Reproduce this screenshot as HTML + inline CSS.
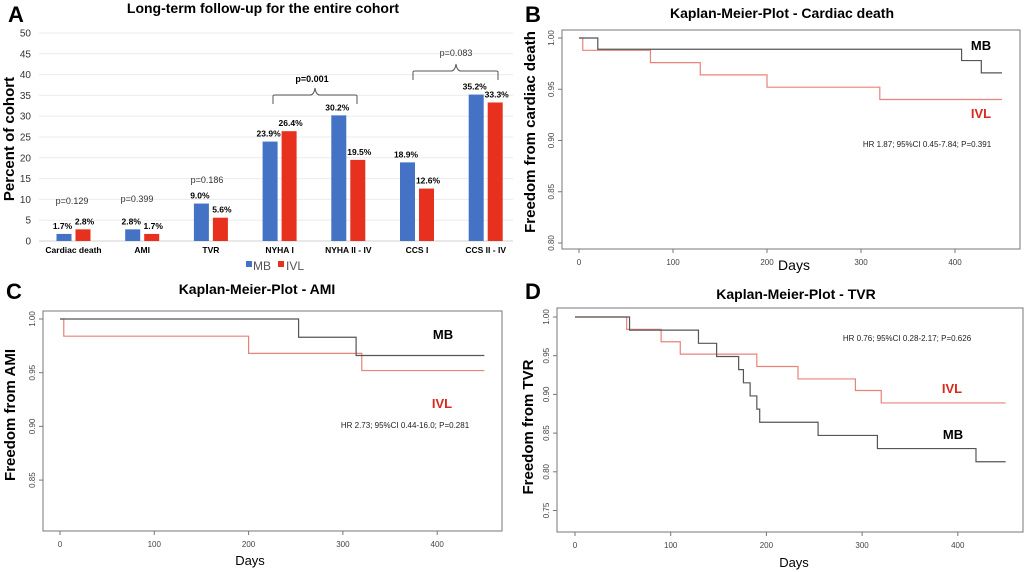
<!DOCTYPE html>
<html><head><meta charset="utf-8"><style>
body{margin:0;background:#fff}
svg{display:block;font-family:"Liberation Sans",sans-serif}
</style></head><body>
<svg id="fig" width="1026" height="572" viewBox="0 0 1026 572" xmlns="http://www.w3.org/2000/svg">
<g id="pa"></g>
<g id="pb"></g>
<g id="pc"></g>
<g id="pd"></g>
</svg>
<script>
// ---- Panel A data ----
const barCategories = ["Cardiac death","AMI","TVR","NYHA I","NYHA II - IV","CCS I","CCS II - IV"];
const mbValues = [1.7,2.8,9.0,23.9,30.2,18.9,35.2];
const ivlValues = [2.8,1.7,5.6,26.4,19.5,12.6,33.3];
const barTicks = [0,5,10,15,20,25,30,35,40,45,50];
// ---- KM data (step times & survival) ----
const bMBTimes=[0,20,407,428,450], bMBSurv=[1,0.989,0.978,0.966,0.966];
const bIVLTimes=[0,4,76,129,200,320,450], bIVLSurv=[1,0.988,0.976,0.964,0.952,0.940,0.940];
const cMBTimes=[0,253,314,450], cMBSurv=[1,0.983,0.966,0.966];
const cIVLTimes=[0,4,200,320,450], cIVLSurv=[1,0.984,0.968,0.952,0.952];
const dMBTimes=[0,57,129,148,171,176,183,190,193,254,316,419,450];
const dMBSurv=[1,0.983,0.966,0.949,0.932,0.915,0.898,0.881,0.864,0.847,0.830,0.813,0.813];
const dIVLTimes=[0,54,90,110,190,233,293,320,450];
const dIVLSurv=[1,0.984,0.968,0.952,0.936,0.920,0.905,0.889,0.889];
const dayTicks=[0,100,200,300,400];
const bYTicks=[0.80,0.85,0.90,0.95,1.00];
const cYTicks=[0.85,0.90,0.95,1.00];
const dYTicks=[0.75,0.80,0.85,0.90,0.95,1.00];

const NS="http://www.w3.org/2000/svg";
function el(parent,tag,attrs,text){const e=document.createElementNS(NS,tag);for(const k in attrs)e.setAttribute(k,attrs[k]);if(text!==undefined)e.textContent=text;parent.appendChild(e);return e;}

// ---- Panel A ----
(function(){
const g=document.getElementById('pa');
const y=v=>241-v*4.16, cx=i=>73.5+i*68.7;
let t=el(g,'text',{x:16,y:22,'font-size':22,'font-weight':'bold','text-anchor':'middle'},'A');

t=el(g,'text',{x:263,y:13,'font-size':14,'font-weight':'bold','text-anchor':'middle'},'Long-term follow-up for the entire cohort');

t=el(g,'text',{x:0,y:0,'font-size':15,'font-weight':'bold','text-anchor':'middle',transform:'translate(14,139) rotate(-90)'},'Percent of cohort');

barTicks.forEach(v=>{
 const l=el(g,'line',{x1:39,x2:513,y1:y(v),y2:y(v),stroke:v===0?'#d0d0d0':'#ececec','stroke-width':1});
 
 const tt=el(g,'text',{x:31,y:y(v)+3.5,'font-size':10,fill:'#333','text-anchor':'end'},String(v));
 
});
barCategories.forEach((c,i)=>{
 const c0=cx(i);
 const r1=el(g,'rect',{x:c0-17,y:y(mbValues[i]),width:15,height:mbValues[i]*4.16,fill:'#4472c4'});
 
 const r2=el(g,'rect',{x:c0+2,y:y(ivlValues[i]),width:15,height:ivlValues[i]*4.16,fill:'#e8301f'});
 
 const v1=el(g,'text',{x:c0-11,y:y(mbValues[i])-5,'font-size':8.5,'font-weight':'bold','text-anchor':'middle'},mbValues[i].toFixed(1)+'%');
 
 const v2=el(g,'text',{x:c0+11,y:y(ivlValues[i])-5,'font-size':8.5,'font-weight':'bold','text-anchor':'middle'},ivlValues[i].toFixed(1)+'%');
 
 const cl=el(g,'text',{x:c0,y:253,'font-size':8.5,'font-weight':'bold','text-anchor':'middle'},c);
 
});
[["p=0.129",72,204],["p=0.399",137,202],["p=0.186",207,183]].forEach(p=>{
 const pt=el(g,'text',{x:p[1],y:p[2],'font-size':9,fill:'#333','text-anchor':'middle'},p[0]);
 
});
t=el(g,'text',{x:312,y:82,'font-size':9,'font-weight':'bold','text-anchor':'middle'},'p=0.001');

t=el(g,'text',{x:456,y:56,'font-size':9,fill:'#333','text-anchor':'middle'},'p=0.083');

let b=el(g,'path',{d:'M273,104 L273,96 Q273,95 275,95 L310,95 Q314,95 315,88 Q316,95 320,95 L355,95 Q357,95 357,96 L357,104',fill:'none',stroke:'#555','stroke-width':1});

b=el(g,'path',{d:'M413,80 L413,72 Q413,71 415,71 L451,71 Q455,71 456,64 Q457,71 461,71 L496,71 Q498,71 498,72 L498,80',fill:'none',stroke:'#555','stroke-width':1});

let lg=el(g,'rect',{x:246,y:261,width:6,height:6,fill:'#4472c4'});

t=el(g,'text',{x:253,y:270,'font-size':12,fill:'#555'},'MB');

lg=el(g,'rect',{x:278,y:261,width:6,height:6,fill:'#e8301f'});

t=el(g,'text',{x:286,y:270,'font-size':12,fill:'#555'},'IVL');

})();

// ---- KM panels ----
function km(cfg){
 const g=document.getElementById(cfg.id);
 const X=d=>cfg.x0+d*cfg.dx, Y=s=>cfg.y1+(1-s)/0.05*cfg.dy;
 let t=el(g,'text',{x:cfg.letter[1],y:cfg.letter[2],'font-size':22,'font-weight':'bold','text-anchor':'middle'},cfg.letter[0]);
 
 t=el(g,'text',{x:cfg.title[1],y:cfg.title[2],'font-size':14,'font-weight':'bold','text-anchor':'middle'},cfg.title[0]);
 
 const f=el(g,'rect',{x:cfg.fx,y:cfg.fy,width:cfg.fw,height:cfg.fh,fill:'none',stroke:'#777','stroke-width':1});
 
 dayTicks.forEach(d=>{
  const l=el(g,'line',{x1:X(d),x2:X(d),y1:cfg.fy+cfg.fh,y2:cfg.fy+cfg.fh+4,stroke:'#777'});
  
  const tt=el(g,'text',{x:X(d),y:cfg.xty,'font-size':8,fill:'#444','text-anchor':'middle'},String(d));
  
 });
 cfg.yticks.forEach(v=>{
  const l=el(g,'line',{x1:cfg.fx-4,x2:cfg.fx,y1:Y(v),y2:Y(v),stroke:'#777'});
  
  const tt=el(g,'text',{x:0,y:0,'font-size':8,fill:'#444','text-anchor':'middle',transform:`translate(${cfg.fx-8},${Y(v)}) rotate(-90)`},v.toFixed(2));
  
 });
 t=el(g,'text',{x:cfg.days[0],y:cfg.days[1],'font-size':cfg.days[2],'text-anchor':'middle'},'Days');
 
 t=el(g,'text',{x:0,y:0,'font-size':15,'font-weight':'bold','text-anchor':'middle',transform:`translate(${cfg.yt[1]},${cfg.yt[2]}) rotate(-90)`},cfg.yt[0]);
 
 function step(times,surv,color,name){
  let d=`M${X(times[0])},${Y(surv[0])}`;
  for(let i=1;i<times.length;i++){d+=` H${X(times[i])} V${Y(surv[i])}`;}
  const p=el(g,'path',{d:d,fill:'none',stroke:color,'stroke-width':1.2});
  
 }
 step(cfg.ivlT,cfg.ivlS,'#e8837a','ivl-curve');
 step(cfg.mbT,cfg.mbS,'#555','mb-curve');
 t=el(g,'text',{x:cfg.mbL[0],y:cfg.mbL[1],'font-size':13,'font-weight':'bold','text-anchor':'middle'},'MB');
 
 t=el(g,'text',{x:cfg.ivlL[0],y:cfg.ivlL[1],'font-size':13,'font-weight':'bold',fill:'#d9281c','text-anchor':'middle'},'IVL');
 
 t=el(g,'text',{x:cfg.hr[1],y:cfg.hr[2],'font-size':8,fill:'#222','text-anchor':'middle'},cfg.hr[0]);
 
}
km({id:'pb',letter:['B',533,22],title:['Kaplan-Meier-Plot -  Cardiac death',782,18],fx:562,fy:30,fw:458,fh:219,
 x0:579,dx:0.94,y1:38,dy:51.25,yticks:bYTicks,xty:265,days:[794,270,14],yt:['Freedom from cardiac death',535,132],
 mbT:bMBTimes,mbS:bMBSurv,ivlT:bIVLTimes,ivlS:bIVLSurv,mbL:[981,50],ivlL:[981,118],hr:['HR 1.87; 95%CI 0.45-7.84; P=0.391',927,147]});
km({id:'pc',letter:['C',14,299],title:['Kaplan-Meier-Plot - AMI',257,294],fx:43,fy:311,fw:459,fh:220,
 x0:60,dx:0.943,y1:319,dy:53.7,yticks:cYTicks,xty:547,days:[250,565,13],yt:['Freedom from AMI',15,415],
 mbT:cMBTimes,mbS:cMBSurv,ivlT:cIVLTimes,ivlS:cIVLSurv,mbL:[443,339],ivlL:[442,408],hr:['HR 2.73; 95%CI 0.44-16.0; P=0.281',405,428]});
km({id:'pd',letter:['D',533,299],title:['Kaplan-Meier-Plot - TVR',796,299],fx:557,fy:308,fw:466,fh:224,
 x0:575,dx:0.957,y1:317,dy:38.7,yticks:dYTicks,xty:548,days:[794,567,13],yt:['Freedom from TVR',533,427],
 mbT:dMBTimes,mbS:dMBSurv,ivlT:dIVLTimes,ivlS:dIVLSurv,mbL:[953,439],ivlL:[952,393],hr:['HR 0.76; 95%CI 0.28-2.17; P=0.626',907,341]});
</script>
</body></html>
